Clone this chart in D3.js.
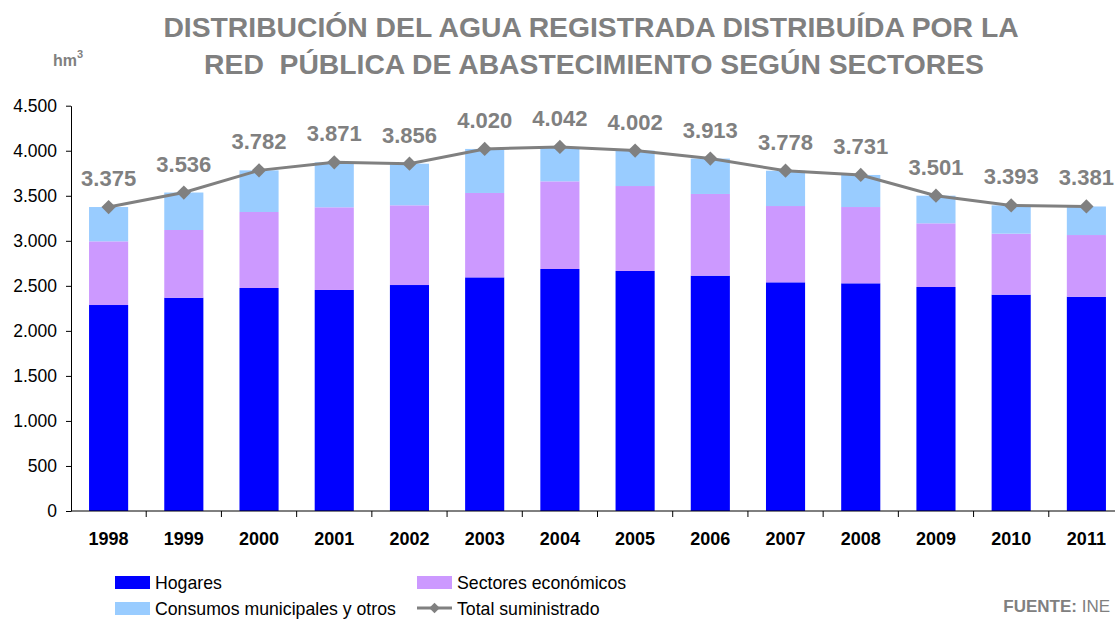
<!DOCTYPE html>
<html lang="es">
<meta charset="utf-8">
<title>Distribución del agua registrada</title>
<style>
  body { margin: 0; background: #fff; }
  svg { display: block; font-family: "Liberation Sans", Arial, sans-serif; }
  .axis path, .axis line { stroke: #000; }
</style>
<body>
<div id="chart"></div>
<script src="https://cdn.jsdelivr.net/npm/d3@7"></script>
<script>
// Data (hm3)
var years = ["1998","1999","2000","2001","2002","2003","2004","2005","2006","2007","2008","2009","2010","2011"];
var hogares   = [2287, 2368, 2476, 2454, 2509, 2594, 2687, 2665, 2613, 2539, 2528, 2487, 2402, 2379];
var sectores  = [ 707,  752,  844,  918,  885,  937,  973,  943,  907,  847,  847,  707,  677,  685];
var consumos  = [ 381,  416,  462,  499,  462,  489,  382,  394,  393,  392,  356,  307,  314,  317];
var totales   = [3375, 3536, 3782, 3871, 3856, 4020, 4042, 4002, 3913, 3778, 3731, 3501, 3393, 3381];
var yTicks = [0, 500, 1000, 1500, 2000, 2500, 3000, 3500, 4000, 4500];

var seriesNames = ["Hogares", "Sectores económicos", "Consumos municipales y otros", "Total suministrado"];
var colors = ["#0000ff", "#cc99ff", "#99ccff"];
var grey = "#808080";

var W = 1115, H = 619;
var svg = d3.select("#chart").append("svg").attr("width", W).attr("height", H);

// Scales
var x = d3.scaleBand().domain(years).range([71, 1124]).padding(0);
var y = d3.scaleLinear().domain([0, 4500]).range([511, 105.7]);
var barW = x.bandwidth() * 0.52;

var fmt = function(d) { return d3.format(",")(d).replace(/,/g, "."); };

// Title
var title = svg.append("g").attr("fill", grey).attr("font-weight", "bold")
  .attr("font-size", 28.3).attr("text-anchor", "middle");
title.append("text").attr("x", 591).attr("y", 37).text("DISTRIBUCIÓN DEL AGUA REGISTRADA DISTRIBUÍDA POR LA");
title.append("text").attr("x", 594).attr("y", 74).attr("xml:space", "preserve").text("RED  PÚBLICA DE ABASTECIMIENTO SEGÚN SECTORES");

// unit label
var unit = svg.append("text").attr("x", 53).attr("y", 66).attr("fill", grey)
  .attr("font-weight", "bold").attr("font-size", 16);
unit.append("tspan").text("hm");
unit.append("tspan").attr("dy", -8).attr("font-size", 11).text("3");

// Stacked bars
var rows = years.map(function(yr, i) {
  return { year: yr, h: hogares[i], s: sectores[i], c: consumos[i] };
});
var stack = d3.stack().keys(["h", "s", "c"])(rows);

svg.append("g").selectAll("g").data(stack).join("g")
  .attr("fill", function(d, i) { return colors[i]; })
  .selectAll("rect").data(function(d) { return d; }).join("rect")
  .attr("x", function(d) { return x(d.data.year) + (x.bandwidth() - barW) / 2; })
  .attr("width", barW)
  .attr("y", function(d) { return y(d[1]); })
  .attr("height", function(d) { return y(d[0]) - y(d[1]); });

// Y axis
var yAxis = svg.append("g").attr("class", "axis").attr("transform", "translate(71,0)")
  .call(d3.axisLeft(y).tickValues(yTicks).tickSize(5).tickSizeOuter(0).tickPadding(9).tickFormat(fmt));
yAxis.selectAll("text").attr("font-size", 17.5).attr("fill", "#000")
  .attr("font-family", "Liberation Sans, Arial, sans-serif");

// X axis (ticks between categories)
var xAxis = svg.append("g").attr("class", "axis").attr("transform", "translate(0,511)");
xAxis.append("line").attr("x1", 71).attr("x2", W).attr("stroke", "#000");
xAxis.selectAll("line.tk").data(years.slice(1)).join("line").attr("class", "tk")
  .attr("x1", function(d) { return x(d); }).attr("x2", function(d) { return x(d); })
  .attr("y1", 0).attr("y2", 6).attr("stroke", "#000");
xAxis.selectAll("text").data(years).join("text")
  .attr("x", function(d) { return x(d) + x.bandwidth() / 2; })
  .attr("y", 34).attr("text-anchor", "middle")
  .attr("font-size", 18).attr("font-weight", "bold").attr("fill", "#000")
  .text(function(d) { return d; });

// Total line
var line = d3.line()
  .x(function(d, i) { return x(years[i]) + x.bandwidth() / 2; })
  .y(function(d) { return y(d); });
svg.append("path").datum(totales).attr("d", line)
  .attr("fill", "none").attr("stroke", grey).attr("stroke-width", 3);

var diamond = d3.symbol().type(d3.symbolDiamond2).size(130);
svg.append("g").selectAll("path").data(totales).join("path")
  .attr("d", diamond)
  .attr("transform", function(d, i) {
    return "translate(" + (x(years[i]) + x.bandwidth() / 2) + "," + y(d) + ")";
  })
  .attr("fill", grey);

svg.append("g").selectAll("text").data(totales).join("text")
  .attr("x", function(d, i) { return x(years[i]) + x.bandwidth() / 2; })
  .attr("y", function(d) { return y(d) - 21; })
  .attr("text-anchor", "middle").attr("font-size", 22).attr("font-weight", "bold")
  .attr("fill", grey)
  .text(function(d) { return fmt(d); });

// Legend
var legendItems = [
  { name: seriesNames[0], color: colors[0], x: 115, y: 582 },
  { name: seriesNames[1], color: colors[1], x: 417, y: 582 },
  { name: seriesNames[2], color: colors[2], x: 115, y: 608 },
  { name: seriesNames[3], line: true, x: 417, y: 608 }
];
var lg = svg.append("g").selectAll("g").data(legendItems).join("g")
  .attr("transform", function(d) { return "translate(" + d.x + "," + d.y + ")"; });
lg.filter(function(d) { return !d.line; }).append("rect")
  .attr("x", 0).attr("y", -6).attr("width", 35).attr("height", 13)
  .attr("fill", function(d) { return d.color; });
lg.filter(function(d) { return d.line; }).append("line")
  .attr("x1", 0).attr("x2", 35).attr("stroke", grey).attr("stroke-width", 3);
lg.filter(function(d) { return d.line; }).append("path")
  .attr("d", d3.symbol().type(d3.symbolDiamond2).size(70))
  .attr("transform", "translate(17.5,0)").attr("fill", grey);
lg.append("text").attr("x", 40).attr("y", 6.5).attr("font-size", 17.7).attr("fill", "#000")
  .text(function(d) { return d.name; });

// Source
var src = svg.append("text").attr("x", 1110).attr("y", 612).attr("text-anchor", "end")
  .attr("font-size", 17).attr("fill", grey);
src.append("tspan").attr("font-weight", "bold").text("FUENTE:");
src.append("tspan").text(" INE");
</script>
</body>
</html>
